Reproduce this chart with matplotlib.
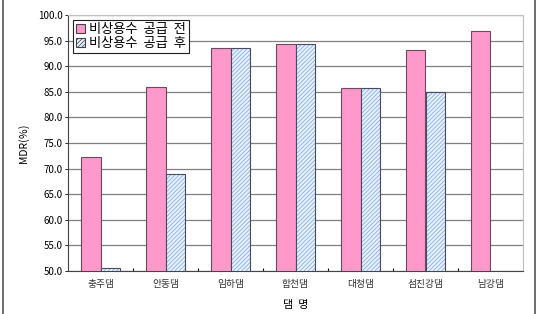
import numpy as np
import matplotlib
matplotlib.use("Agg")
import matplotlib.pyplot as plt
from matplotlib.patches import Rectangle, Patch

plt.rcParams["font.family"] = ["Noto Sans CJK KR", "DejaVu Sans"]
plt.rcParams["hatch.linewidth"] = 0.5

# 데이터
dams = ["충주댐", "안동댐", "임하댐", "합천댐", "대청댐", "섬진강댐", "남강댐"]
mdr_before = [72.2, 85.9, 93.6, 94.3, 85.8, 93.2, 96.8]
mdr_after = [50.6, 68.9, 93.6, 94.3, 85.8, 84.9, np.nan]
yticks = np.arange(50, 100.1, 5)

fig = plt.figure(figsize=(5.4, 3.14), dpi=100)
ax = fig.add_axes([68 / 540, 1 - 271 / 314, 455 / 540, 256 / 314])

# 바깥 테두리
fig.patches.append(Rectangle((3 / 540, -0.02), 532 / 540, 1.03, transform=fig.transFigure,
                             fill=False, edgecolor="#555555", linewidth=1.2))

x = np.arange(len(dams))
w = 0.3
ax.bar(x - w / 2, mdr_before, w, color="#ff99cc", edgecolor="#6b4a5e", linewidth=0.8,
       zorder=3)
# 빗금 막대: 빗금 채우기 + 테두리 따로
ax.bar(x + w / 2, mdr_after, w, color="#e3f0ff", edgecolor="#7fa3d6", hatch="////////",
       linewidth=0, zorder=3)
ax.bar(x + w / 2, mdr_after, w, fill=False, edgecolor="#4a4a5e", linewidth=0.8, zorder=4)

ax.set_ylim(50, 100)
ax.set_xlim(-0.5, len(dams) - 0.5)
ax.set_yticks(yticks)
ax.set_yticklabels([f"{v:.1f}" for v in yticks], fontsize=7)
ax.grid(axis="y", color="#808080", linewidth=0.9, zorder=0)
ax.tick_params(axis="y", length=2, width=0.6, pad=2)

ax.set_xticks(x)
ax.set_xticklabels(dams, fontsize=7, color="#333333")
ax.tick_params(axis="x", length=0, pad=6)
ax.set_xticks(np.arange(0.5, len(dams) - 0.5), minor=True)
ax.tick_params(axis="x", which="minor", direction="in", length=2, width=0.8)

for s in ["top", "right"]:
    ax.spines[s].set_color("#c0c0c0")
for s in ["left", "bottom"]:
    ax.spines[s].set_color("#444444")

ax.set_ylabel("MDR(％)", fontsize=7.5, labelpad=6)
ax.set_xlabel("댐  명", fontsize=8, labelpad=8)

# 범례
handles = [Patch(facecolor="#ff99cc", edgecolor="#444444", linewidth=0.8,
                 label="비상용수  공급  전"),
           Patch(facecolor="#e3f0ff", edgecolor="#444444", hatch="////////", linewidth=0.8,
                 label="비상용수  공급  후")]
leg = ax.legend(handles=handles, loc="upper left", bbox_to_anchor=(0.012, 0.98), fontsize=9.5,
                frameon=True, fancybox=False, framealpha=1, edgecolor="#222222",
                handlelength=0.7, handleheight=0.7, handletextpad=0.3, borderpad=0.2,
                labelspacing=0.1, borderaxespad=0)
leg.get_frame().set_linewidth(0.8)
leg.set_zorder(10)

fig.savefig("out.png", dpi=100)
